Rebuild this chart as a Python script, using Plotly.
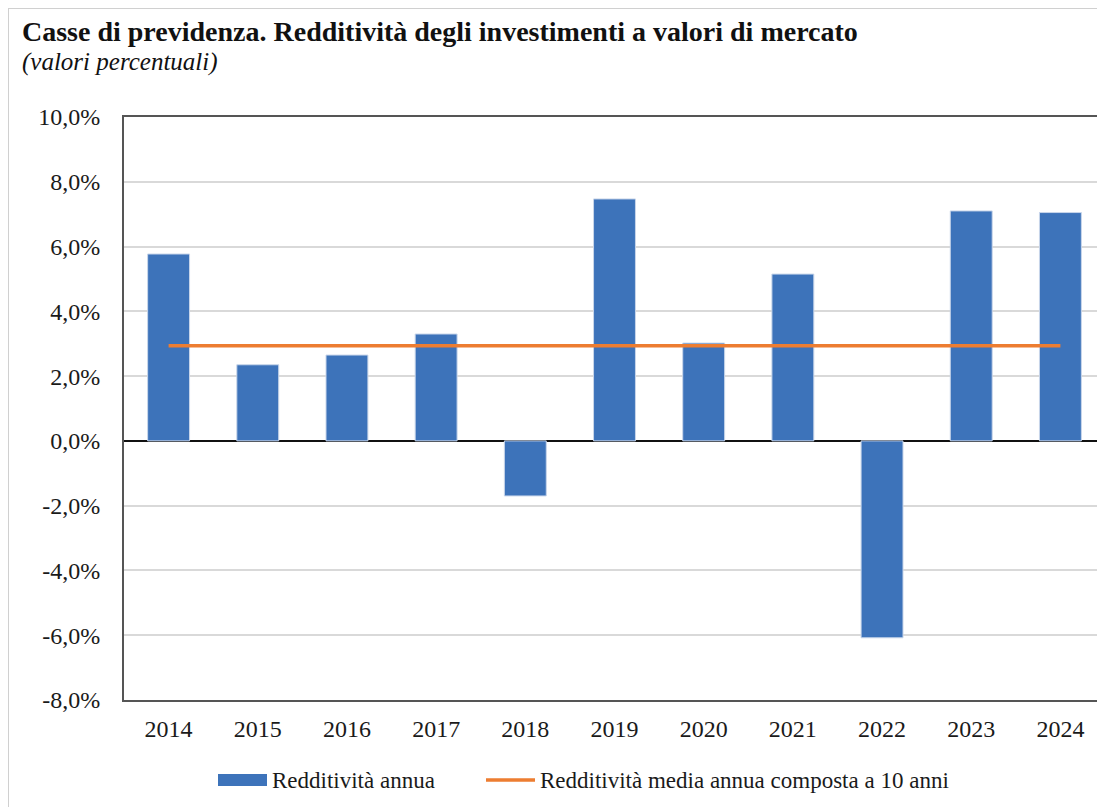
import plotly.graph_objects as go

years = ["2014", "2015", "2016", "2017", "2018", "2019", "2020", "2021", "2022", "2023", "2024"]
annual = [5.77, 2.35, 2.65, 3.30, -1.70, 7.47, 3.02, 5.15, -6.08, 7.10, 7.05]
avg10 = [2.94] * len(years)
y_ticks = [-8, -6, -4, -2, 0, 2, 4, 6, 8, 10]
y_ticktext = [f"{v:.1f}%".replace(".", ",") for v in y_ticks]

FONT = "Liberation Serif"
BAR_COLOR = "#3D73BA"
LINE_COLOR = "#ED7D31"

# the page body adds an 8px offset; figure is sized so it ends at the window edge
OFF = 8
W, H = 1105 - OFF, 807 - OFF
# plot area in window coordinates
PL, PR, PT, PB = 124, 1105, 117, 700
L, R, T, B = PL - OFF, (1105 - PR), PT - OFF, 807 - PB
PW, PH = PR - PL, PB - PT


def px(x):
    return (x - PL) / PW


def py(y):
    return (PB - y) / PH


fig = go.Figure()
fig.add_trace(go.Bar(
    x=years, y=annual, name="Redditività annua",
    marker=dict(color=BAR_COLOR, line=dict(color="#C9D6EA", width=1)),
    showlegend=False,
))
fig.add_trace(go.Scatter(
    x=years, y=avg10, name="Redditività media annua composta a 10 anni",
    mode="lines", line=dict(color=LINE_COLOR, width=3.5),
    showlegend=False,
))

annotations = [
    dict(text="<b>Casse di previdenza. Redditività degli investimenti a valori di mercato</b>",
         xref="paper", yref="paper", x=px(20), y=py(14), xanchor="left", yanchor="top",
         showarrow=False, font=dict(family=FONT, size=28, color="#111")),
    dict(text="<i>(valori percentuali)</i>",
         xref="paper", yref="paper", x=px(20), y=py(46), xanchor="left", yanchor="top",
         showarrow=False, font=dict(family=FONT, size=25, color="#111")),
    # legend texts
    dict(text="Redditività annua", xref="paper", yref="paper", x=px(270), y=py(780),
         xanchor="left", yanchor="middle", showarrow=False,
         font=dict(family=FONT, size=23, color="#1a1a1a")),
    dict(text="Redditività media annua composta a 10 anni", xref="paper", yref="paper",
         x=px(538), y=py(780), xanchor="left", yanchor="middle", showarrow=False,
         font=dict(family=FONT, size=23, color="#1a1a1a")),
]

shapes = [
    # outer frame
    dict(type="line", xref="paper", yref="paper", x0=px(8), x1=px(8),
         y0=py(820), y1=py(8), line=dict(color="#d0d0d0", width=2)),
    dict(type="line", xref="paper", yref="paper", x0=px(8), x1=px(1120),
         y0=py(8), y1=py(8), line=dict(color="#d0d0d0", width=2)),
    # legend symbols
    dict(type="rect", xref="paper", yref="paper", x0=px(218), x1=px(267),
         y0=py(786), y1=py(774), fillcolor=BAR_COLOR, line=dict(width=0)),
    dict(type="line", xref="paper", yref="paper", x0=px(486), x1=px(535),
         y0=py(780), y1=py(780), line=dict(color=LINE_COLOR, width=3.5)),
]

fig.update_layout(
    width=W, height=H,
    margin=dict(l=L, r=R, t=T, b=B, autoexpand=False),
    paper_bgcolor="white", plot_bgcolor="white",
    font=dict(family=FONT, size=22, color="#1a1a1a"),
    bargap=0.53,
    showlegend=False,
    annotations=annotations,
    shapes=shapes,
)
fig.update_xaxes(showgrid=False, showline=True, linecolor="#555", linewidth=2, mirror=True,
                 ticks="", tickfont=dict(family=FONT, size=24, color="#1a1a1a"),
                 ticklabelstandoff=6, automargin=False)
fig.update_yaxes(range=[-8, 10], tickvals=y_ticks, ticktext=y_ticktext,
                 showgrid=True, gridcolor="#d9d9d9", gridwidth=1.5,
                 zeroline=True, zerolinecolor="#111", zerolinewidth=1.5,
                 showline=True, linecolor="#555", linewidth=2, mirror=True,
                 tickfont=dict(family=FONT, size=24, color="#1a1a1a"),
                 ticklabelstandoff=17, automargin=False)

fig.write_html("out.html")
